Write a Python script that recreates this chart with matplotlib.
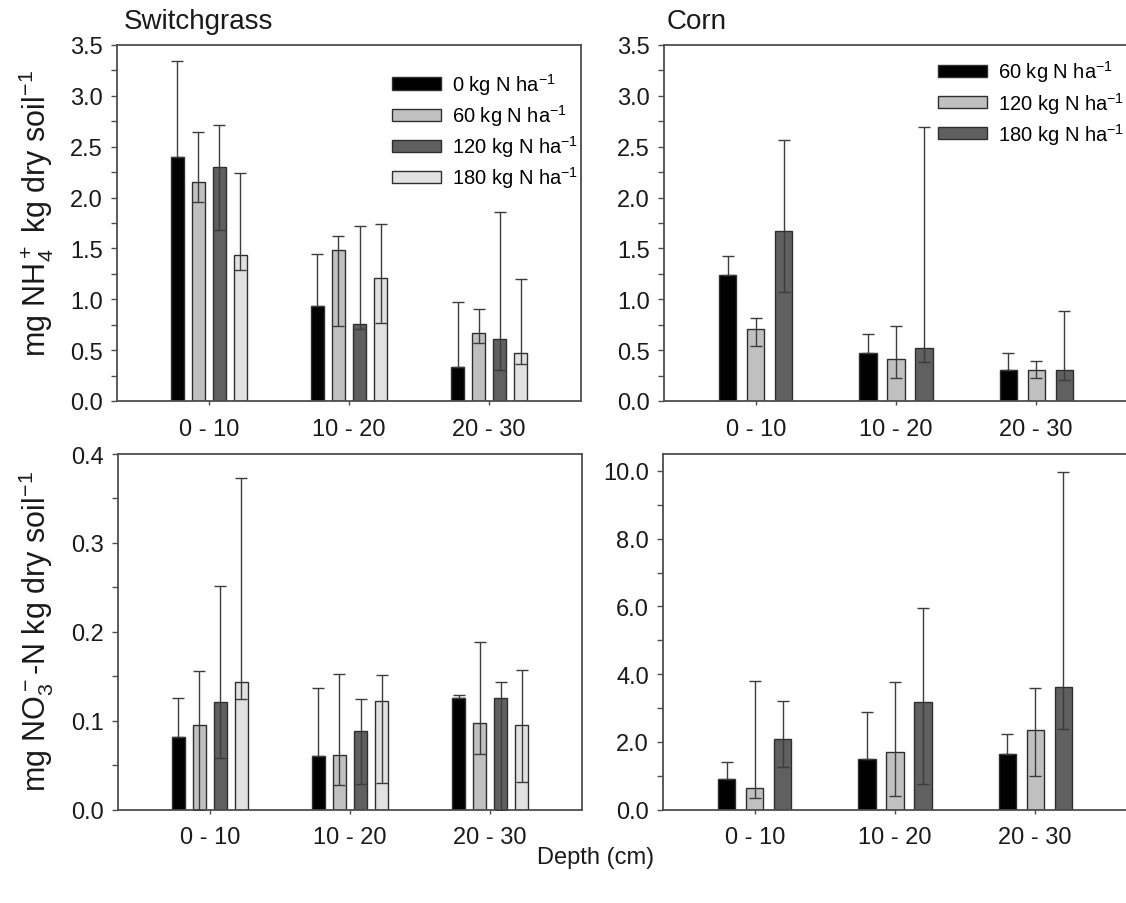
import numpy as np
import matplotlib
matplotlib.use("Agg")
import matplotlib.pyplot as plt
from matplotlib.ticker import MultipleLocator, FormatStrFormatter

plt.rcParams['font.family'] = ['Liberation Sans', 'DejaVu Sans']
plt.rcParams['mathtext.fontset'] = 'custom'
plt.rcParams['mathtext.rm'] = 'Liberation Sans'
plt.rcParams['mathtext.it'] = 'Liberation Sans:italic'
plt.rcParams['mathtext.default'] = 'regular'

depths = ["0 - 10", "10 - 20", "20 - 30"]

sg_rates = [r"0 kg N ha$^{-1}$", r"60 kg N ha$^{-1}$",
            r"120 kg N ha$^{-1}$", r"180 kg N ha$^{-1}$"]
corn_rates = [r"60 kg N ha$^{-1}$", r"120 kg N ha$^{-1}$", r"180 kg N ha$^{-1}$"]

# Switchgrass NH4+ (mean, lower end, upper end of error bar) per rate, by depth
sg_nh4_mean = [[2.40, 0.93, 0.33], [2.15, 1.48, 0.67], [2.30, 0.76, 0.61], [1.44, 1.21, 0.47]]
sg_nh4_low = [[2.40, 0.93, 0.33], [1.96, 0.74, 0.57], [1.68, 0.71, 0.30], [1.29, 0.77, 0.36]]
sg_nh4_high = [[3.34, 1.45, 0.97], [2.64, 1.62, 0.90], [2.71, 1.72, 1.86], [2.24, 1.74, 1.20]]

# Corn NH4+
corn_nh4_mean = [[1.24, 0.47, 0.30], [0.71, 0.41, 0.30], [1.67, 0.52, 0.30]]
corn_nh4_low = [[1.24, 0.47, 0.30], [0.54, 0.23, 0.23], [1.07, 0.38, 0.21]]
corn_nh4_high = [[1.43, 0.66, 0.47], [0.82, 0.74, 0.39], [2.57, 2.69, 0.88]]

# Switchgrass NO3- -N
sg_no3_mean = [[0.082, 0.060, 0.126], [0.095, 0.061, 0.097], [0.121, 0.088, 0.126], [0.144, 0.122, 0.095]]
sg_no3_low = [[0.082, 0.060, 0.126], [0.0, 0.028, 0.062], [0.058, 0.029, 0.0], [0.124, 0.030, 0.031]]
sg_no3_high = [[0.126, 0.137, 0.129], [0.156, 0.152, 0.188], [0.251, 0.124, 0.144], [0.373, 0.151, 0.157]]

# Corn NO3- -N
corn_no3_mean = [[0.91, 1.48, 1.65], [0.63, 1.71, 2.35], [2.07, 3.18, 3.63]]
corn_no3_low = [[0.91, 1.48, 1.65], [0.33, 0.41, 0.98], [1.27, 0.75, 2.38]]
corn_no3_high = [[1.39, 2.87, 2.24], [3.81, 3.76, 3.58], [3.20, 5.95, 9.98]]

sg_colors = ["#000000", "#c0c0c0", "#606060", "#e1e1e1"]
corn_colors = ["#000000", "#c0c0c0", "#606060"]

W, H = 1126, 904
fig = plt.figure(figsize=(W / 100, H / 100), dpi=100)


def px_axes(left, top, right, bottom):
    return fig.add_axes([left / W, 1 - bottom / H, (right - left) / W, (bottom - top) / H])


FRAME = "#4d4d4d"
TXT = "#1a1a1a"


def panel(ax, means, lows, highs, colors, labels, step, width, ylim, major, minor, fmt):
    x = np.arange(1, len(depths) + 1)
    n = len(means)
    offsets = (np.arange(n) - (n - 1) / 2) * step
    for i in range(n):
        m = np.array(means[i])
        lo = np.array(lows[i])
        hi = np.array(highs[i])
        ax.bar(x + offsets[i], m, width=width, color=colors[i],
               edgecolor="#2e2e2e", linewidth=1.0, zorder=2, label=labels[i])
        ax.errorbar(x + offsets[i], m, yerr=[m - lo, hi - m], fmt="none",
                    ecolor="#3c3c3c", elinewidth=1.0, capsize=4.0, capthick=1.0, zorder=3)
    ax.set_xlim(0.345, 3.655)
    ax.set_ylim(*ylim)
    ax.set_xticks(x)
    ax.set_xticklabels(depths, fontsize=17, color=TXT)
    ax.yaxis.set_major_locator(MultipleLocator(major))
    ax.yaxis.set_minor_locator(MultipleLocator(minor))
    ax.yaxis.set_major_formatter(FormatStrFormatter(fmt))
    ax.tick_params(axis="y", which="both", direction="out", length=4, width=1,
                   color=FRAME, labelsize=17, labelcolor=TXT, pad=6)
    ax.tick_params(axis="x", which="both", direction="out", length=3, width=1,
                   color=FRAME, pad=9)
    for s in ax.spines.values():
        s.set_color(FRAME)
        s.set_linewidth(1.3)


ax1 = px_axes(117, 46, 581, 402)
panel(ax1, sg_nh4_mean, sg_nh4_low, sg_nh4_high, sg_colors, sg_rates,
      0.15, 0.092, (0, 3.5), 0.5, 0.25, "%.1f")
ax2 = px_axes(664, 46, 1128, 402)
panel(ax2, corn_nh4_mean, corn_nh4_low, corn_nh4_high, corn_colors, corn_rates,
      0.2, 0.123, (0, 3.5), 0.5, 0.25, "%.1f")
ax3 = px_axes(118, 455, 582, 810.5)
panel(ax3, sg_no3_mean, sg_no3_low, sg_no3_high, sg_colors, sg_rates,
      0.15, 0.092, (0, 0.4), 0.1, 0.05, "%.1f")
ax4 = px_axes(663, 455, 1127, 810.5)
panel(ax4, corn_no3_mean, corn_no3_low, corn_no3_high, corn_colors, corn_rates,
      0.2, 0.123, (0, 10.5), 2.0, 1.0, "%.1f")

leg_kw = dict(frameon=False, fontsize=14.5, handlelength=2.45, handleheight=0.55,
              handletextpad=0.55, labelspacing=0.26, borderaxespad=0, borderpad=0)
ax1.legend(loc="upper left", bbox_to_anchor=(0.592, 0.927), **leg_kw)
ax2.legend(loc="upper left", bbox_to_anchor=(0.59, 0.962), **leg_kw)

fig.text(124 / W, 1 - 22 / H, "Switchgrass", fontsize=20, color=TXT, ha="left", va="center")
fig.text(667 / W, 1 - 22 / H, "Corn", fontsize=20, color=TXT, ha="left", va="center")

fig.text(36 / W, 1 - 213 / H, r"mg NH$_4^+$ kg dry soil$^{-1}$", fontsize=22, color=TXT,
         rotation=90, ha="center", va="center")
fig.text(36 / W, 1 - 632 / H, r"mg NO$_3^-$-N kg dry soil$^{-1}$", fontsize=22, color=TXT,
         rotation=90, ha="center", va="center")
fig.text(596 / W, 1 - 858 / H, "Depth (cm)", fontsize=17, color=TXT, ha="center", va="center")

fig.savefig("out.png", dpi=100)
